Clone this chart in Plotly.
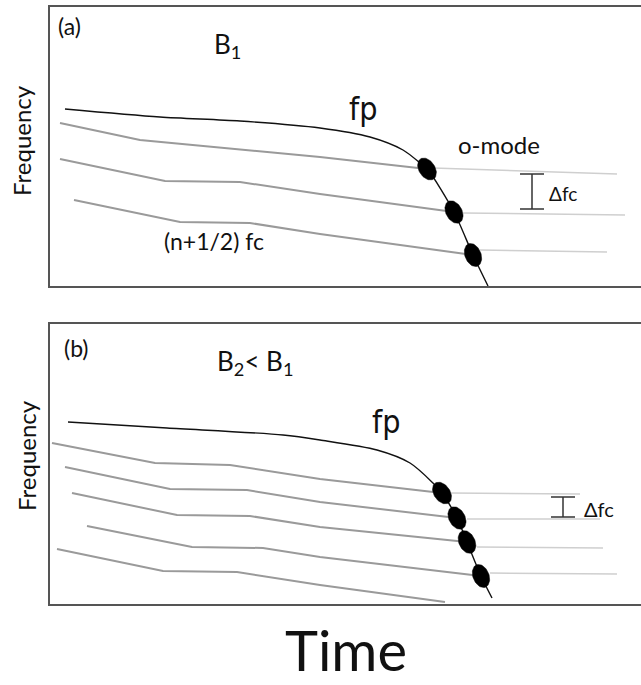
import numpy as np
import plotly.graph_objects as go

# ---------------- Panel (a) data (time, frequency in arbitrary units) ----------------
fp_a_t = [15, 110, 190, 270, 320, 353, 370, 378, 404, 423, 438]
fp_a_f = [177, 169, 165, 158, 149, 136, 123, 116, 74, 31, 0]

harm_a_t = [[10, 90, 270, 377], [10, 115, 190, 270, 404], [24, 130, 200, 270, 423]]
harm_a_f = [[163, 146, 129, 117], [127, 105, 104, 92, 74], [86, 64, 63, 52, 31]]

ext_a_t = [[383, 567], [413, 575], [430, 557]]
ext_a_f = [[118, 112], [73, 71], [36, 34]]

ell_a_t = [377, 404, 423]
ell_a_f = [117, 74, 31]
ell_a_ang = [-57, -62, -68]

# ---------------- Panel (b) data ----------------
fp_b_t = [18, 117, 233, 270, 327, 360, 383, 392, 407, 417, 431, 442]
fp_b_f = [182, 176, 169, 164, 154, 141, 121, 111, 86, 62, 28, 6]

harm_b_t = [[2, 105, 180, 270, 392], [15, 120, 197, 270, 407], [22, 127, 200, 270, 417],
            [37, 142, 213, 270, 431], [7, 113, 187, 270, 395]]
harm_b_f = [[161, 141, 139, 125, 111], [137, 115, 114, 102, 86], [111, 89, 88, 77, 62],
            [78, 57, 56, 47, 28], [55, 33, 32, 19, 2]]

ext_b_t = [[400, 530], [417, 550], [427, 553], [440, 567]]
ext_b_f = [[111, 110], [85, 85], [57, 56], [31, 30]]

ell_b_t = [392, 407, 417, 431]
ell_b_f = [111, 86, 62, 28]
ell_b_ang = [-55, -62, -65, -68]

# Delta fc markers: (time, low f, high f)
dfc_a = (482, 77, 112)
dfc_b = (513, 87, 107)

FONT = "Lato, Open Sans, sans-serif"
NARROW = "Liberation Sans Narrow, DejaVu Sans Condensed, Roboto, sans-serif"

fig = go.Figure()


def line(t, f, xa, ya, color, width, shape="linear"):
    fig.add_trace(go.Scatter(x=t, y=f, mode="lines", xaxis=xa, yaxis=ya,
                             line=dict(color=color, width=width, shape=shape, smoothing=0.8),
                             hoverinfo="skip", showlegend=False))


def ellipse(tc, fc, ang, xa, ya, a=12, b=8):
    th = np.linspace(0, 2 * np.pi, 60)
    ca, sa = np.cos(np.radians(ang)), np.sin(np.radians(ang))
    x = tc + a * np.cos(th) * ca - b * np.sin(th) * sa
    y = fc + a * np.cos(th) * sa + b * np.sin(th) * ca
    fig.add_trace(go.Scatter(x=x, y=y, mode="lines", fill="toself", fillcolor="black",
                             line=dict(color="black", width=0.5), xaxis=xa, yaxis=ya,
                             hoverinfo="skip", showlegend=False))


def panel(fp_t, fp_f, ht, hf, et, ef, ellt, ellf, ella, dfc, xa, ya):
    for t, f in zip(et, ef):
        line(t, f, xa, ya, "#cfcfcf", 1.5)
    for t, f in zip(ht, hf):
        line(t, f, xa, ya, "#9a9a9a", 2)
    line(fp_t, fp_f, xa, ya, "#111111", 1.4, "spline")
    for t, f, a in zip(ellt, ellf, ella):
        ellipse(t, f, a, xa, ya)
    tx, lo, hi = dfc
    line([tx, tx], [lo, hi], xa, ya, "#333333", 1.5)
    line([tx - 12, tx + 12], [lo, lo], xa, ya, "#333333", 1.5)
    line([tx - 12, tx + 12], [hi, hi], xa, ya, "#333333", 1.5)


panel(fp_a_t, fp_a_f, harm_a_t, harm_a_f, ext_a_t, ext_a_f, ell_a_t, ell_a_f, ell_a_ang, dfc_a, "x", "y")
panel(fp_b_t, fp_b_f, harm_b_t, harm_b_f, ext_b_t, ext_b_f, ell_b_t, ell_b_f, ell_b_ang, dfc_b, "x2", "y2")

W, H = 641, 685
ax_common = dict(showgrid=False, zeroline=False, showticklabels=False, ticks="",
                 showline=True, linecolor="#555555", linewidth=2)
fig.update_layout(
    width=W, height=H, margin=dict(l=0, r=0, t=0, b=0),
    paper_bgcolor="white", plot_bgcolor="white",
    xaxis=dict(domain=[50 / W, 1], range=[0, 591], mirror=True, anchor="y", **ax_common),
    yaxis=dict(domain=[399 / H, 678 / H], range=[0, 279], mirror=False, anchor="x", **ax_common),
    xaxis2=dict(domain=[50 / W, 1], range=[0, 591], mirror=True, anchor="y2", **ax_common),
    yaxis2=dict(domain=[81 / H, 361 / H], range=[0, 280], mirror=False, anchor="x2", **ax_common),
)

ann = []


def text(s, x, y, size, xref="x", yref="y", font=FONT, xanchor="center", yanchor="middle",
         angle=0, color="#111111"):
    ann.append(dict(text=s, x=x, y=y, xref=xref, yref=yref, showarrow=False, xanchor=xanchor,
                    yanchor=yanchor, textangle=angle, font=dict(family=font, size=size, color=color)))


# Panel (a) labels
text("(a)", 19, 260, 23)
text("B<sub>1</sub>", 177, 240, 26)
text("fp", 313, 177, 32, font=NARROW)
text("o-mode", 449, 141, 24)
text("Δfc", 497, 92, 19, xanchor="left")
text("(n+1/2) fc", 164, 45, 23)
# Panel (b) labels
text("(b)", 26, 256, 23, "x2", "y2")
text("B<sub>2</sub>&lt; B<sub>1</sub>", 205, 242, 26, "x2", "y2")
text("fp", 336, 182, 32, "x2", "y2", font=NARROW)
text("Δfc", 532, 95, 20, "x2", "y2", xanchor="left")
# Axis titles
text("Frequency", 21 / W, 1 - 141 / H, 24, "paper", "paper", angle=-90)
text("Frequency", 26 / W, 1 - 456 / H, 24, "paper", "paper", angle=-90)
text("Time", 346 / W, 0, 56, "paper", "paper", yanchor="bottom")

fig.update_layout(annotations=ann)
fig.write_html("out.html")
